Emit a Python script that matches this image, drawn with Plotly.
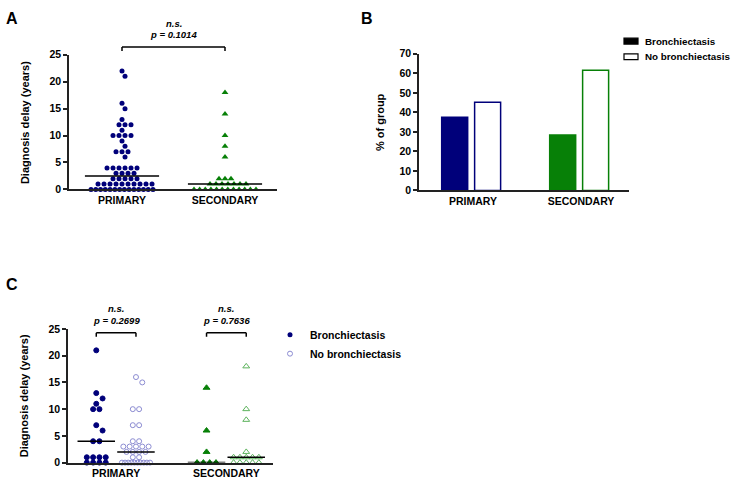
import numpy as np
import plotly.graph_objects as go

W, H = 734, 493

# ---------------- data ----------------
groups = ["PRIMARY", "SECONDARY"]

# Panel A: diagnosis delay (years)
a_primary = ([22, 21, 16, 15, 13] + [12] * 3 + [11] + [10] * 4 + [9, 8] + [7] * 3 + [6]
             + [4] * 6 + [3] * 4 + [2] * 5 + [1] * 10 + [0] * 14)
a_secondary = [18, 14, 10, 8, 6] + [2] * 3 + [1] * 7 + [0] * 12
a_pvalue = "p = 0.1014"

# Panel B: % of group
b_bronch = [37.5, 28.4]
b_nobronch = [45.2, 61.6]

# Panel C: diagnosis delay by bronchiectasis status
c_prim_bronch = [21, 13, 12, 11, 10, 10, 7, 6, 4, 4, 1, 1, 1, 1, 0, 0, 0, 0]
c_prim_nobronch = [16, 15, 10, 10, 7, 7, 4, 4] + [3] * 5 + [2] * 4 + [1] * 2 + [0] * 10
c_sec_bronch = [14, 6, 2, 0, 0, 0, 0]
c_sec_nobronch = [18, 10, 8, 2] + [1] * 5 + [0] * 5
c_pvalues = ["p = 0.2699", "p = 0.7636"]

legend_labels = ["Bronchiectasis", "No bronchiectasis"]

# ---------------- styles ----------------
NAVY = "#00007a"
GREEN = "#078007"
LAV = "#8c8cd2"
LGREEN = "#5db35d"
FONT = "Arial, Liberation Sans, sans-serif"
AXC = "#222222"


def px_x(p):
    return p / W


def px_y(p):
    return 1 - p / H


def swarm(vals, d, ppu_y, ppu_x, max_w):
    vals = np.asarray(vals, dtype=float)
    offs = np.zeros(len(vals))
    placed = []
    for v in sorted(set(vals.tolist()), reverse=True):
        idx = np.where(vals == v)[0]
        n = len(idx)
        dd = d if (n - 1) * d <= max_w else max_w / (n - 1)
        base = (np.arange(n) - (n - 1) / 2) * dd
        ypx = v * ppu_y
        chosen = base
        for sh in [0, d / 2, -d / 2, d, -d]:
            xs = base + sh
            ok = all(np.hypot(x - px, ypx - py) >= 1.02 * d for x in xs for (px, py) in placed)
            if ok:
                chosen = xs
                break
        offs[idx] = chosen / ppu_x
        placed.extend((x, ypx) for x in chosen)
    return offs


fig = go.Figure()

# ---------------- Panel A ----------------
A_x0, A_x1, A_y0, A_y1 = 69, 277, 188, 50
A_ppu_x = 103.0
A_range = [1 - (122 - A_x0) / A_ppu_x, 2 + (A_x1 - 225) / A_ppu_x]
A_ppu_y = (A_y0 - A_y1) / 25

for gi, (vals, sym, col) in enumerate([(a_primary, "circle", NAVY), (a_secondary, "triangle-up", GREEN)]):
    xc = gi + 1
    off = swarm(vals, 6.0, A_ppu_y, A_ppu_x, 62)
    fig.add_trace(go.Scatter(x=xc + off, y=vals, mode="markers", xaxis="x", yaxis="y",
                             marker=dict(symbol=sym, size=5 if sym == "circle" else 6, color=col,
                                         line=dict(width=0)),
                             cliponaxis=False, showlegend=False, hoverinfo="y"))
    med = float(np.median(vals))
    hw = 0.36
    fig.add_trace(go.Scatter(x=[xc - hw, xc + hw], y=[med, med], mode="lines", xaxis="x", yaxis="y",
                             line=dict(color="black", width=1.5), cliponaxis=False,
                             showlegend=False, hoverinfo="skip"))

# ---------------- Panel B ----------------
B_x0, B_x1, B_y0, B_y1 = 419, 629, 189, 49
B_ppu_x = 108.0
B_range = [1 - (473 - B_x0) / B_ppu_x, 2 + (B_x1 - 581) / B_ppu_x]
bw = 26 / B_ppu_x
fig.add_trace(go.Bar(x=[1, 2], y=b_bronch, xaxis="x2", yaxis="y2", width=bw, offset=-0.29,
                     marker=dict(color=[NAVY, GREEN], line=dict(color=[NAVY, GREEN], width=1.5)),
                     showlegend=False))
fig.add_trace(go.Bar(x=[1, 2], y=b_nobronch, xaxis="x2", yaxis="y2", width=bw, offset=0.015,
                     marker=dict(color="white", line=dict(color=[NAVY, GREEN], width=1.5)),
                     showlegend=False))

# ---------------- Panel C ----------------
C_x0, C_x1, C_y0, C_y1 = 68, 273, 468, 331
C_ppu_x = 110.0
C_range = [1 - (116 - C_x0) / C_ppu_x, 2 + (C_x1 - 226.5) / C_ppu_x]
C_ppu_y = (C_y0 - C_y1) / 25
sub = 0.18
c_sets = [
    (c_prim_bronch, 1 - sub, "circle", NAVY, NAVY),
    (c_prim_nobronch, 1 + sub, "circle-open", LAV, LAV),
    (c_sec_bronch, 2 - sub, "triangle-up", GREEN, GREEN),
    (c_sec_nobronch, 2 + sub, "triangle-up-open", LGREEN, LGREEN),
]
for vals, xc, sym, col, lc in c_sets:
    off = swarm(vals, 6.3, C_ppu_y, C_ppu_x, 28)
    fig.add_trace(go.Scatter(x=xc + off, y=vals, mode="markers", xaxis="x3", yaxis="y3",
                             marker=dict(symbol=sym, size=5 if "circle" in sym else 6, color=col,
                                         line=dict(width=1, color=lc)),
                             cliponaxis=False, showlegend=False, hoverinfo="y"))
    med = float(np.median(vals))
    hw = 0.17
    fig.add_trace(go.Scatter(x=[xc - hw, xc + hw], y=[med, med], mode="lines", xaxis="x3", yaxis="y3",
                             line=dict(color="black", width=1.5), cliponaxis=False,
                             showlegend=False, hoverinfo="skip"))
# legend entries for C
fig.add_trace(go.Scatter(x=[None], y=[None], mode="markers", xaxis="x3", yaxis="y3", name=legend_labels[0],
                         marker=dict(symbol="circle", size=5, color=NAVY), legend="legend"))
fig.add_trace(go.Scatter(x=[None], y=[None], mode="markers", xaxis="x3", yaxis="y3", name=legend_labels[1],
                         marker=dict(symbol="circle-open", size=5, color=LAV, line=dict(width=1)),
                         legend="legend"))

# ---------------- axes ----------------
tickfont = dict(family=FONT, size=10.5, color="black", weight="bold")
common_y = dict(showline=True, linecolor=AXC, linewidth=1.5, ticks="outside", ticklen=4, tickwidth=1.5,
                tickcolor=AXC, showgrid=False, zeroline=False, tickfont=tickfont, fixedrange=True)
common_x = dict(showline=True, linecolor=AXC, linewidth=1.5, ticks="", showgrid=False, zeroline=False,
                tickfont=dict(family=FONT, size=10.5, color="black", weight="bold"), tickmode="array",
                tickvals=[1, 2], ticktext=groups, fixedrange=True)

fig.update_layout(
    width=W, height=H, margin=dict(l=0, r=0, t=0, b=0),
    paper_bgcolor="white", plot_bgcolor="white",
    font=dict(family=FONT, color="black"),
    barmode="overlay",
    xaxis=dict(domain=[px_x(A_x0), px_x(A_x1)], range=A_range, anchor="y", **common_x),
    yaxis=dict(domain=[px_y(A_y0), px_y(A_y1)], range=[0, 25], dtick=5, anchor="x", **common_y),
    xaxis2=dict(domain=[px_x(B_x0), px_x(B_x1)], range=B_range, anchor="y2", **common_x),
    yaxis2=dict(domain=[px_y(B_y0), px_y(B_y1)], range=[0, 70], dtick=10, anchor="x2", **common_y),
    xaxis3=dict(domain=[px_x(C_x0), px_x(C_x1)], range=C_range, anchor="y3", **common_x),
    yaxis3=dict(domain=[px_y(C_y0), px_y(C_y1)], range=[0, 25], dtick=5, anchor="x3", **common_y),
    legend=dict(x=px_x(270), y=px_y(322), xanchor="left", yanchor="top", bgcolor="rgba(0,0,0,0)",
                font=dict(family=FONT, size=10.5, color="black", weight="bold"), tracegroupgap=2,
                itemwidth=30),
    hovermode="closest",
)

anns = []
shapes = []
# panel letters
for lab, x, y in [("A", 4, 13), ("B", 359, 13), ("C", 4, 285)]:
    anns.append(dict(text=lab, x=px_x(x), y=px_y(y), xref="paper", yref="paper", showarrow=False,
                     xanchor="left", yanchor="middle", font=dict(family=FONT, size=16, color="black",
                                                                  weight="bold")))
# y titles
for txt, x, y in [("Diagnosis delay (years)", 25, 120), ("% of group", 380, 119),
                  ("Diagnosis delay (years)", 24, 400)]:
    anns.append(dict(text=txt, x=px_x(x), y=px_y(y), xref="paper", yref="paper", showarrow=False,
                     textangle=-90, xanchor="center", yanchor="middle",
                     font=dict(family=FONT, size=11, color="black", weight="bold")))

# legend for panel B (drawn manually)
for i, (lab, fill) in enumerate(zip(legend_labels, ["black", "white"])):
    yc = 36 + 16 * i
    shapes.append(dict(type="rect", xref="paper", yref="paper", x0=px_x(624), x1=px_x(638),
                       y0=px_y(yc + 3), y1=px_y(yc - 3), fillcolor=fill,
                       line=dict(color="black", width=1.2)))
    anns.append(dict(text=lab, x=px_x(644), y=px_y(yc), xref="paper", yref="paper", showarrow=False,
                     xanchor="left", yanchor="middle", borderpad=0,
                     font=dict(family=FONT, size=9.8, color="black", weight="bold")))

sig_font = dict(family=FONT, size=9.5, color="black", weight="bold", style="italic")


def bracket(xa, x0, x1, ytop_px, ns_px, p_px, ptxt):
    yt = px_y(ytop_px)
    yb = px_y(ytop_px + 4)
    for (xa0, ya0, xa1, ya1) in [(x0, yt, x1, yt), (x0, yt, x0, yb), (x1, yt, x1, yb)]:
        shapes.append(dict(type="line", xref=xa, yref="paper", x0=xa0, x1=xa1, y0=ya0, y1=ya1,
                           line=dict(color="black", width=1.5)))
    xm = (x0 + x1) / 2
    anns.append(dict(text="n.s.", x=xm, y=px_y(ns_px), xref=xa, yref="paper", showarrow=False,
                     xanchor="center", yanchor="middle", font=sig_font, borderpad=0))
    anns.append(dict(text=ptxt, x=xm, y=px_y(p_px), xref=xa, yref="paper", showarrow=False,
                     xanchor="center", yanchor="middle", font=sig_font, borderpad=0))


bracket("x", 1, 2, 42, 18, 29, a_pvalue)
bracket("x3", 1 - sub, 1 + sub, 335, 310, 322, c_pvalues[0])
bracket("x3", 2 - sub, 2 + sub, 335, 310, 322, c_pvalues[1])

fig.update_layout(annotations=anns, shapes=shapes)

fig.write_html("out.html", config={"displayModeBar": False},
               post_script="document.body.style.margin='0px';")
